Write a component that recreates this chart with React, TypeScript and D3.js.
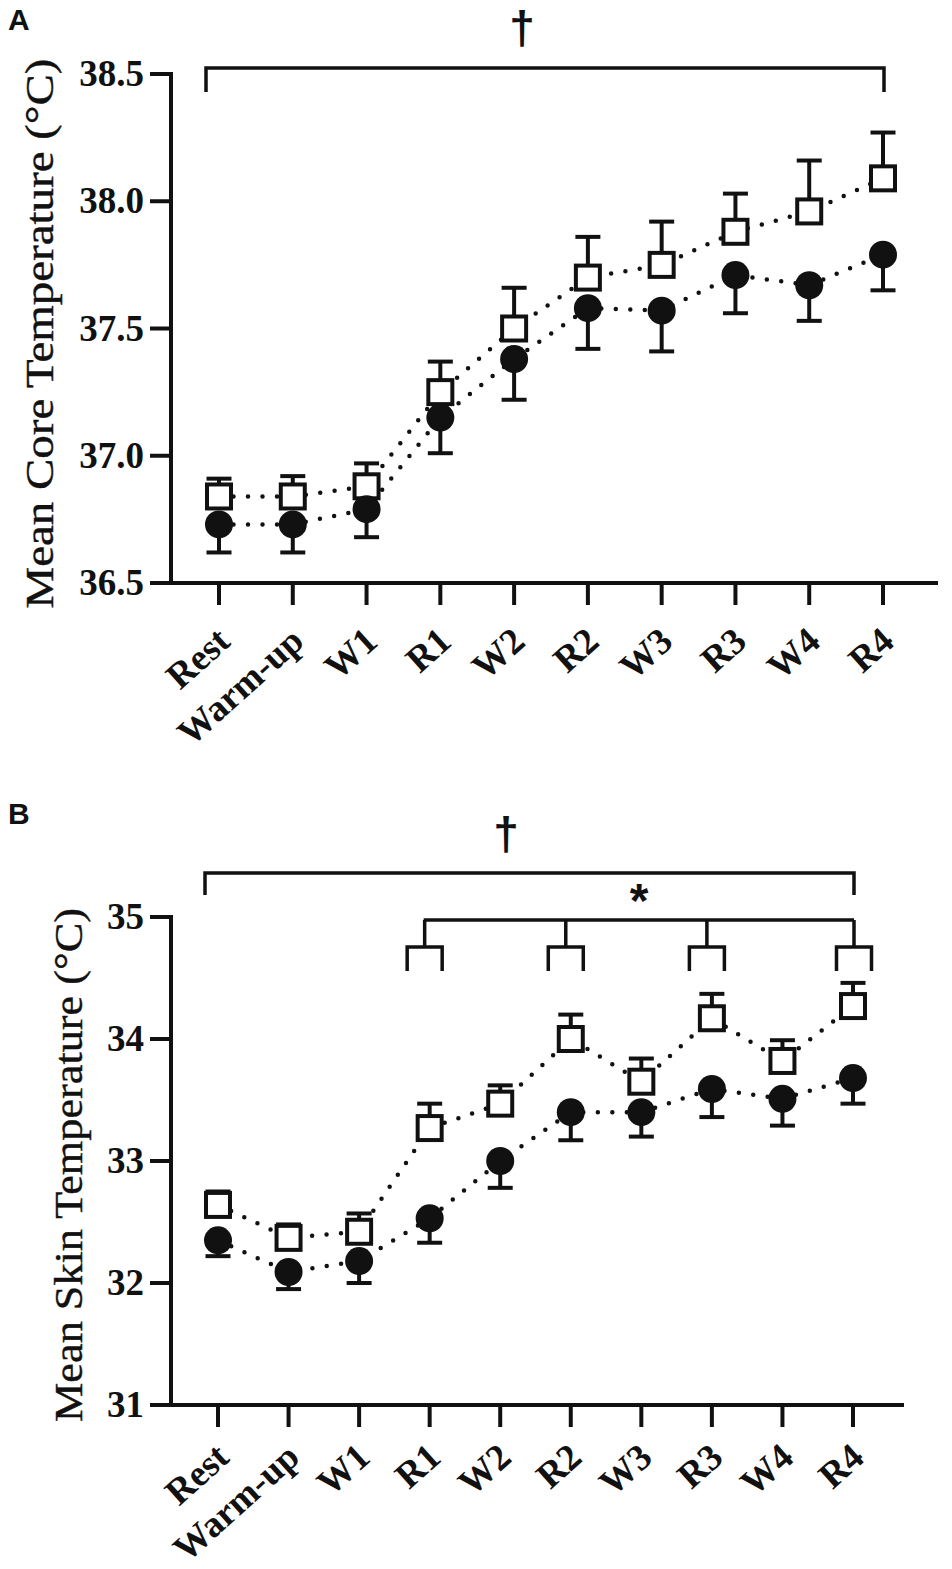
import React from "react";
import * as d3 from "d3";

const categories = ["Rest", "Warm-up", "W1", "R1", "W2", "R2", "W3", "R3", "W4", "R4"];

// Panel A: mean core temperature
const coreOpenMean = [36.84, 36.84, 36.88, 37.25, 37.5, 37.7, 37.75, 37.88, 37.96, 38.09];
const coreOpenErr = [0.07, 0.08, 0.09, 0.12, 0.16, 0.16, 0.17, 0.15, 0.2, 0.18];
const coreFilledMean = [36.73, 36.73, 36.79, 37.15, 37.38, 37.58, 37.57, 37.71, 37.67, 37.79];
const coreFilledErr = [0.11, 0.11, 0.11, 0.14, 0.16, 0.16, 0.16, 0.15, 0.14, 0.14];
const coreTicks = [36.5, 37.0, 37.5, 38.0, 38.5];

// Panel B: mean skin temperature
const skinOpenMean = [32.64, 32.37, 32.42, 33.27, 33.47, 34.0, 33.65, 34.17, 33.82, 34.27];
const skinOpenErr = [0.11, 0.11, 0.15, 0.2, 0.15, 0.2, 0.19, 0.2, 0.17, 0.19];
const skinFilledMean = [32.35, 32.09, 32.18, 32.53, 33.0, 33.4, 33.4, 33.59, 33.51, 33.68];
const skinFilledErr = [0.13, 0.14, 0.18, 0.2, 0.22, 0.23, 0.2, 0.23, 0.22, 0.21];
const skinTicks = [31, 32, 33, 34, 35];

const starCategories = ["R1", "R2", "R3", "R4"];

const SERIF = "'Liberation Serif', 'Times New Roman', serif";
const SANS = "'Liberation Sans', Arial, sans-serif";
const INK = "#111";

type PanelProps = {
  letter: string;
  letterY: number;
  title: string;
  titleX: number;
  titleLen: number;
  yDomain: [number, number];
  yRange: [number, number];
  xRange: [number, number];
  axisRight: number;
  ticks: number[];
  fmt: (v: number) => string;
  openMean: number[];
  openErr: number[];
  filledMean: number[];
  filledErr: number[];
  daggerY: number;
  daggerX: number;
  bracketY: number;
  bracketDrop: number;
  labelDy: number;
  star?: { y: number; textX: number; textY: number; stemY: number; legY: number; half: number };
};

function Panel(p: PanelProps) {
  const x = d3.scalePoint<string>().domain(categories).range(p.xRange);
  const y = d3.scaleLinear().domain(p.yDomain).range(p.yRange);
  const axisX = 171;
  const y0 = p.yRange[0];
  const yTop = p.yRange[1];
  const tickLen = 21;
  const line = d3
    .line<number>()
    .x((_, i) => x(categories[i]) as number)
    .y((d) => y(d));
  const sq = 24;
  const r = 14;
  const cap = 12.5;
  const titleCenter = (y0 + yTop) / 2 + (p.letter === "A" ? 5 : 4);
  const bL = (x("Rest") as number) - 13;
  const bR = (x("R4") as number) + 1;
  return (
    <g>
      <text x={8} y={p.letterY} fontFamily={SANS} fontWeight="bold" fontSize={30} fill={INK}>
        {p.letter}
      </text>
      {/* y axis title */}
      <text
        transform={`translate(${p.titleX},${titleCenter}) rotate(-90)`}
        textAnchor="middle"
        fontFamily={SERIF}
        fontSize={39}
        fill={INK}
        stroke={INK}
        strokeWidth={0.4}
        textLength={p.titleLen}
        lengthAdjust="spacingAndGlyphs"
      >
        {p.title}
      </text>
      {/* axes */}
      <line x1={axisX} x2={axisX} y1={yTop - 2} y2={y0 + 2} stroke={INK} strokeWidth={4} />
      <line x1={axisX - 2} x2={p.axisRight} y1={y0} y2={y0} stroke={INK} strokeWidth={4} />
      {p.ticks.map((t) => (
        <g key={t}>
          <line x1={axisX - tickLen} x2={axisX} y1={y(t)} y2={y(t)} stroke={INK} strokeWidth={4} />
          <text
            x={144}
            y={y(t) + 12}
            textAnchor="end"
            fontFamily={SERIF}
            fontWeight="bold"
            fontSize={37}
            fill={INK}
          >
            {p.fmt(t)}
          </text>
        </g>
      ))}
      {categories.map((c) => (
        <g key={c}>
          <line x1={x(c)} x2={x(c)} y1={y0} y2={y0 + tickLen + 1} stroke={INK} strokeWidth={4} />
          <text
            transform={`translate(${(x(c) as number) + 13},${y0 + tickLen + p.labelDy}) rotate(-42)`}
            textAnchor="end"
            fontFamily={SERIF}
            fontWeight="bold"
            fontSize={37}
            fill={INK}
          >
            {c}
          </text>
        </g>
      ))}
      {/* significance brackets */}
      <path
        d={`M${bL},${p.bracketY + p.bracketDrop}V${p.bracketY}H${bR}V${p.bracketY + p.bracketDrop}`}
        fill="none"
        stroke={INK}
        strokeWidth={3.5}
      />
      <text x={p.daggerX} y={p.daggerY} textAnchor="middle" fontFamily={SANS} fontWeight="bold" fontSize={46} fill={INK}>
        †
      </text>
      {p.star && (
        <g>
          <path
            d={`M${(x("R1") as number) - 6},${p.star.y}H${bR}`}
            fill="none"
            stroke={INK}
            strokeWidth={3.5}
          />
          {starCategories.map((c, i) => {
            const cx = (x(c) as number) + (i === 3 ? 1 : -5);
            return (
              <path
                key={c}
                d={`M${cx},${p.star!.y}V${p.star!.stemY}M${cx - p.star!.half},${p.star!.legY}V${p.star!.stemY}H${cx + p.star!.half}V${p.star!.legY}`}
                fill="none"
                stroke={INK}
                strokeWidth={3.5}
              />
            );
          })}
          <text
            x={p.star.textX}
            y={p.star.textY}
            textAnchor="middle"
            fontFamily={SANS}
            fontWeight="bold"
            fontSize={48}
            fill={INK}
          >
            *
          </text>
        </g>
      )}
      {/* dotted connecting lines */}
      <path d={line(p.openMean) || ""} fill="none" stroke={INK} strokeWidth={4.5} strokeLinecap="round" strokeDasharray="0 14.5" />
      <path d={line(p.filledMean) || ""} fill="none" stroke={INK} strokeWidth={4.5} strokeLinecap="round" strokeDasharray="0 14.5" />
      {/* open series: error up */}
      {p.openMean.map((m, i) => {
        const cx = x(categories[i]) as number;
        const yt = y(m + p.openErr[i]);
        return (
          <g key={"o" + i}>
            <line x1={cx} x2={cx} y1={y(m)} y2={yt} stroke={INK} strokeWidth={4} />
            <line x1={cx - cap} x2={cx + cap} y1={yt} y2={yt} stroke={INK} strokeWidth={4} />
            <rect x={cx - sq / 2} y={y(m) - sq / 2} width={sq} height={sq} fill="#fff" stroke={INK} strokeWidth={4} />
          </g>
        );
      })}
      {/* filled series: error down */}
      {p.filledMean.map((m, i) => {
        const cx = x(categories[i]) as number;
        const yb = y(m - p.filledErr[i]);
        return (
          <g key={"f" + i}>
            <line x1={cx} x2={cx} y1={y(m)} y2={yb} stroke={INK} strokeWidth={4} />
            <line x1={cx - cap} x2={cx + cap} y1={yb} y2={yb} stroke={INK} strokeWidth={4} />
            <circle cx={cx} cy={y(m)} r={r} fill={INK} />
          </g>
        );
      })}
    </g>
  );
}

export default function App() {
  return (
    <div style={{ position: "absolute", left: 0, top: 0, width: 952, height: 1569, background: "#fff" }}>
      <svg width={952} height={1569} viewBox="0 0 952 1569" style={{ display: "block" }}>
        <rect width={952} height={1569} fill="#fff" />
        <Panel
          letter="A"
          letterY={30}
          title="Mean Core Temperature (°C)"
          titleX={53}
          titleLen={550}
          yDomain={[36.5, 38.5]}
          yRange={[583, 74]}
          xRange={[219, 883]}
          axisRight={938}
          ticks={coreTicks}
          fmt={d3.format(".1f")}
          openMean={coreOpenMean}
          openErr={coreOpenErr}
          filledMean={coreFilledMean}
          filledErr={coreFilledErr}
          daggerX={522}
          daggerY={44}
          bracketY={68}
          bracketDrop={24}
          labelDy={40}
        />
        <Panel
          letter="B"
          letterY={824}
          title="Mean Skin Temperature (°C)"
          titleX={82}
          titleLen={514}
          yDomain={[31, 35]}
          yRange={[1405, 917]}
          xRange={[218, 853]}
          axisRight={904}
          ticks={skinTicks}
          fmt={d3.format("d")}
          openMean={skinOpenMean}
          openErr={skinOpenErr}
          filledMean={skinFilledMean}
          filledErr={skinFilledErr}
          daggerX={506}
          daggerY={850}
          bracketY={873}
          bracketDrop={22}
          labelDy={34}
          star={{ y: 920, textX: 639, textY: 917, stemY: 947, legY: 971, half: 17.5 }}
        />
      </svg>
    </div>
  );
}
